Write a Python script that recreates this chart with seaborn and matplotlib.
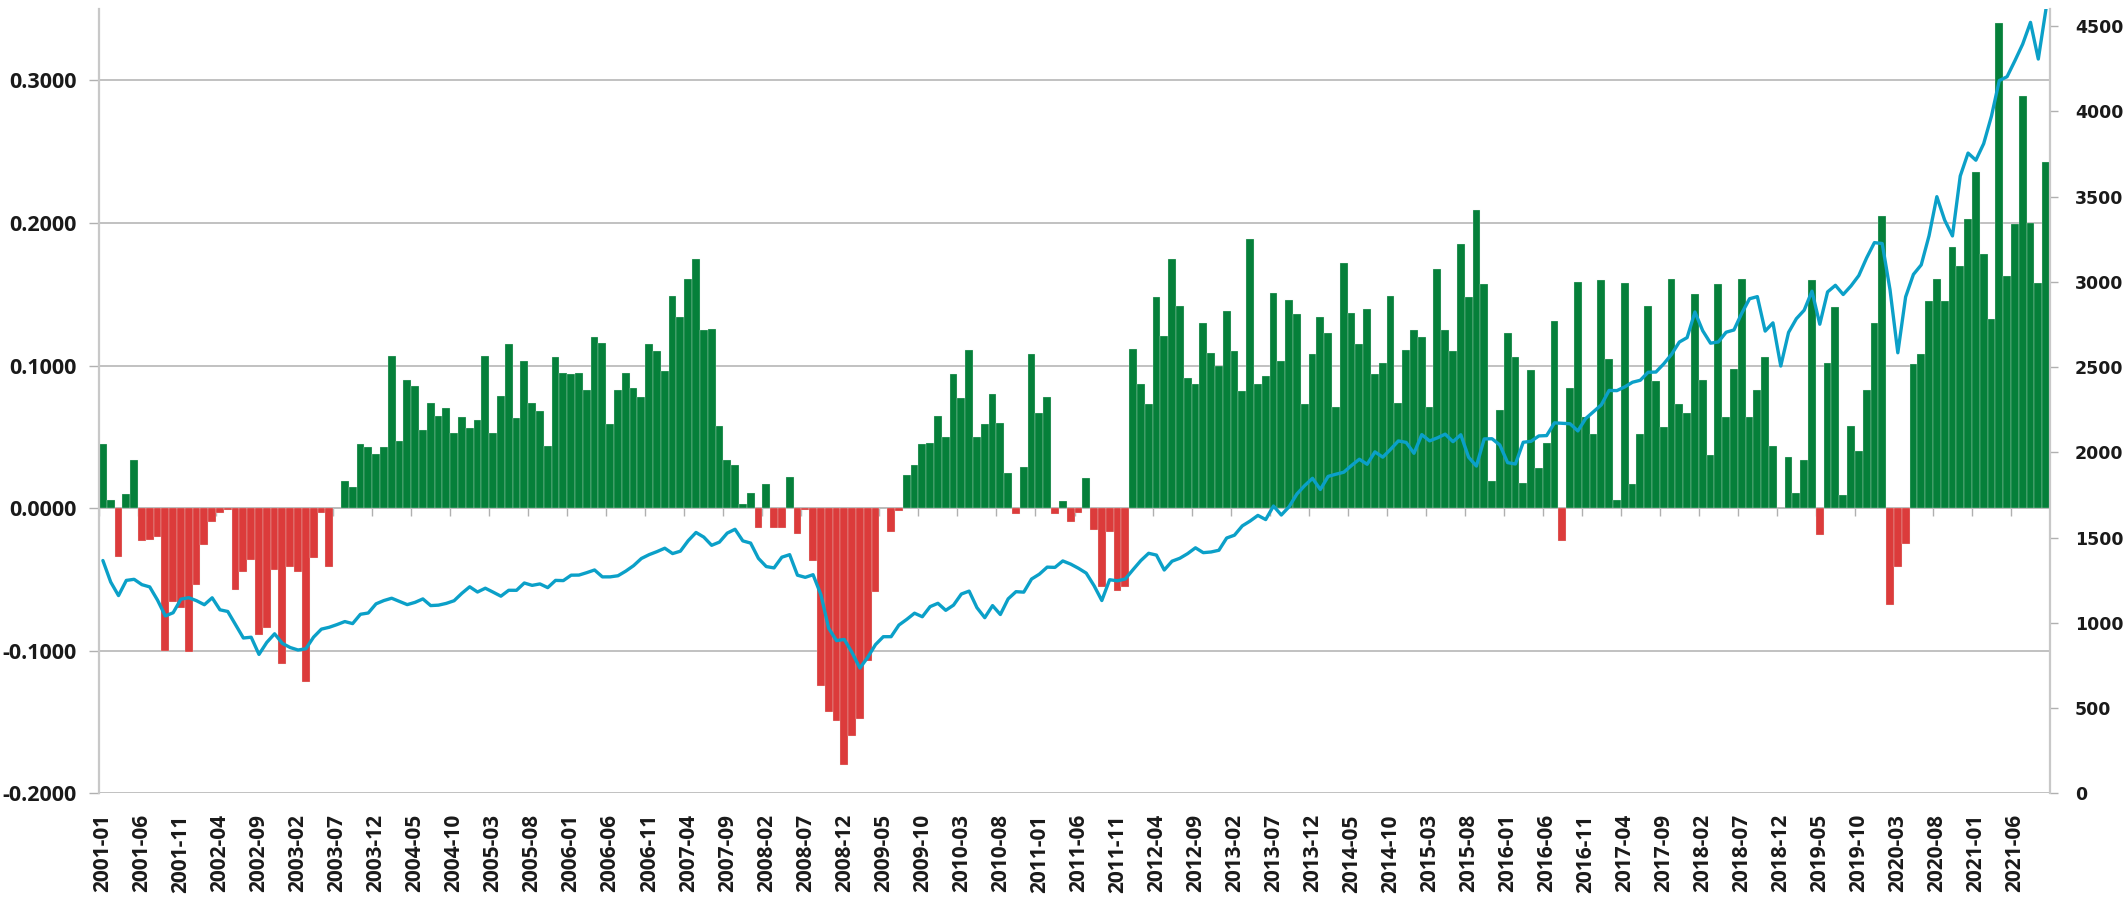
import numpy as np
import pandas as pd
import seaborn as sns
import matplotlib.pyplot as plt

# ---------------- data ----------------
months = list(pd.period_range('2001-01', periods=250, freq='M').strftime('%Y-%m'))

ratio = [
    0.045, 0.006, -0.034, 0.010, 0.034, -0.023, -0.022, -0.020, -0.100, -0.066,
    -0.070, -0.101, -0.054, -0.026, -0.010, -0.003, -0.001, -0.057, -0.045, -0.036,
    -0.089, -0.084, -0.043, -0.109, -0.041, -0.045, -0.122, -0.035, -0.003, -0.041,
    0.000, 0.019, 0.015, 0.045, 0.043, 0.038, 0.043, 0.107, 0.047, 0.090,
    0.086, 0.055, 0.074, 0.065, 0.070, 0.053, 0.064, 0.056, 0.062, 0.107,
    0.053, 0.079, 0.115, 0.063, 0.103, 0.074, 0.068, 0.044, 0.106, 0.095,
    0.094, 0.095, 0.083, 0.120, 0.116, 0.059, 0.083, 0.095, 0.084, 0.078,
    0.115, 0.110, 0.096, 0.149, 0.134, 0.161, 0.175, 0.125, 0.126, 0.058,
    0.034, 0.030, 0.003, 0.011, -0.014, 0.017, -0.014, -0.014, 0.022, -0.018,
    -0.001, -0.037, -0.125, -0.143, -0.149, -0.180, -0.160, -0.148, -0.107, -0.059,
    0.000, -0.017, -0.002, 0.023, 0.030, 0.045, 0.046, 0.065, 0.050, 0.094,
    0.077, 0.111, 0.050, 0.059, 0.080, 0.060, 0.025, -0.004, 0.029, 0.108,
    0.067, 0.078, -0.004, 0.005, -0.010, -0.003, 0.021, -0.015, -0.055, -0.017,
    -0.058, -0.055, 0.112, 0.087, 0.073, 0.148, 0.121, 0.175, 0.142, 0.091,
    0.087, 0.130, 0.109, 0.100, 0.138, 0.110, 0.082, 0.189, 0.087, 0.093,
    0.151, 0.103, 0.146, 0.136, 0.073, 0.108, 0.134, 0.123, 0.071, 0.172,
    0.137, 0.115, 0.140, 0.094, 0.102, 0.149, 0.074, 0.111, 0.125, 0.120,
    0.071, 0.168, 0.125, 0.110, 0.185, 0.148, 0.209, 0.157, 0.019, 0.069,
    0.123, 0.106, 0.018, 0.097, 0.028, 0.046, 0.131, -0.023, 0.084, 0.159,
    0.064, 0.052, 0.160, 0.105, 0.006, 0.158, 0.017, 0.052, 0.142, 0.089,
    0.057, 0.161, 0.073, 0.067, 0.150, 0.090, 0.037, 0.157, 0.064, 0.098,
    0.161, 0.064, 0.083, 0.106, 0.044, 0.000, 0.036, 0.011, 0.034, 0.160,
    -0.019, 0.102, 0.141, 0.009, 0.058, 0.040, 0.083, 0.130, 0.205, -0.068,
    -0.041, -0.025, 0.101, 0.108, 0.145, 0.161, 0.145, 0.183, 0.170, 0.203,
    0.236, 0.178, 0.133, 0.340, 0.163, 0.199, 0.289, 0.200, 0.158, 0.243,
]

index_level = [
    1366.01, 1239.94, 1160.33, 1249.46, 1255.82, 1224.42, 1211.23, 1133.58, 1040.94, 1059.78, 1139.45, 1148.08,
    1130.20, 1106.73, 1147.39, 1076.92, 1067.14, 989.82, 911.62, 916.07, 815.28, 885.76, 936.31, 879.82,
    855.70, 841.15, 848.18, 916.92, 963.59, 974.50, 990.31, 1008.01, 995.97, 1050.71, 1058.20, 1111.92,
    1131.13, 1144.94, 1126.21, 1107.30, 1120.68, 1140.84, 1101.72, 1104.24, 1114.58, 1130.20, 1173.82, 1211.92,
    1181.27, 1203.60, 1180.59, 1156.85, 1191.50, 1191.33, 1234.18, 1220.33, 1228.81, 1207.01, 1249.48, 1248.29,
    1280.08, 1280.66, 1294.83, 1310.61, 1270.09, 1270.20, 1276.66, 1303.82, 1335.85, 1377.94, 1400.63, 1418.30,
    1438.24, 1406.82, 1420.86, 1482.37, 1530.62, 1503.35, 1455.27, 1473.99, 1526.75, 1549.38, 1481.14, 1468.36,
    1378.55, 1330.63, 1322.70, 1385.59, 1400.38, 1280.00, 1267.38, 1282.83, 1166.36, 968.75, 896.24, 903.25,
    825.88, 735.09, 797.87, 872.81, 919.14, 919.32, 987.48, 1020.62, 1057.08, 1036.19, 1095.63, 1115.10,
    1073.87, 1104.49, 1169.43, 1186.69, 1089.41, 1030.71, 1101.60, 1049.33, 1141.20, 1183.26, 1180.55, 1257.64,
    1286.12, 1327.22, 1325.83, 1363.61, 1345.20, 1320.64, 1292.28, 1218.89, 1131.42, 1253.30, 1246.96, 1257.60,
    1312.41, 1365.68, 1408.47, 1397.91, 1310.33, 1362.16, 1379.32, 1406.58, 1440.67, 1412.16, 1416.18, 1426.19,
    1498.11, 1514.68, 1569.19, 1597.57, 1630.74, 1606.28, 1685.73, 1632.97, 1681.55, 1756.54, 1805.81, 1848.36,
    1782.59, 1859.45, 1872.34, 1883.95, 1923.57, 1960.23, 1930.67, 2003.37, 1972.29, 2018.05, 2067.56, 2058.90,
    1994.99, 2104.50, 2067.89, 2085.51, 2107.39, 2063.11, 2103.84, 1972.18, 1920.03, 2079.36, 2080.41, 2043.94,
    1940.24, 1932.23, 2059.74, 2065.30, 2096.95, 2098.86, 2173.60, 2170.95, 2168.27, 2126.15, 2198.81, 2238.83,
    2278.87, 2363.64, 2362.72, 2384.20, 2411.80, 2423.41, 2470.30, 2471.65, 2519.36, 2575.26, 2647.58, 2673.61,
    2823.81, 2713.83, 2640.87, 2648.05, 2705.27, 2718.37, 2816.29, 2901.52, 2913.98, 2711.74, 2760.17, 2506.85,
    2704.10, 2784.49, 2834.40, 2945.83, 2752.06, 2941.76, 2980.38, 2926.46, 2976.74, 3037.56, 3140.98, 3230.78,
    3225.52, 2954.22, 2584.59, 2912.43, 3044.31, 3100.29, 3271.12, 3500.31, 3363.00, 3269.96, 3621.63, 3756.07,
    3714.24, 3811.15, 3972.89, 4181.17, 4204.11, 4297.50, 4395.26, 4522.68, 4307.54, 4605.38,
]

left_ticks = [-0.2, -0.1, 0.0, 0.1, 0.2, 0.3]
right_ticks = [0, 500, 1000, 1500, 2000, 2500, 3000, 3500, 4000, 4500]

# ---------------- style ----------------
GREEN = '#05803A'
RED = '#DC3B3B'
BLUE = '#0BA0C8'
GRID = '#b0b0b0'
SPINE = '#c8c8c8'
TXT = '#1a1a1a'

sns.set_theme(style='white')
plt.rcParams['font.family'] = ['Open Sans', 'DejaVu Sans']

n = len(ratio)
fig = plt.figure(figsize=(21.24, 9.11), dpi=100)
ax = fig.add_axes([99 / 2124, 1 - 793.4 / 911, (2050 - 99) / 2124, (793.4 - 9.2) / 911])

df = pd.DataFrame({
    'month': months,
    'value': ratio,
    'sign': np.where(np.array(ratio) >= 0, 'pos', 'neg'),
})
sns.barplot(data=df, x='month', y='value', hue='sign', order=months,
            palette={'pos': GREEN, 'neg': RED}, dodge=False, width=1.0,
            errorbar=None, legend=False, saturation=1, linewidth=0.2,
            edgecolor='#e8f2ec', ax=ax)

ax.set_xlim(-0.5, n - 0.5)
ax.set_ylim(-0.2, 0.35)
ax.set_axisbelow(True)
ax.yaxis.grid(True, color=GRID, lw=1.1)
ax.xaxis.grid(False)
ax.set_xlabel('')
ax.set_ylabel('')

ax.set_yticks(left_ticks)
ax.set_yticklabels([f'{v:.4f}' for v in left_ticks], fontsize=15.5,
                   fontweight='bold', color=TXT)
ax.tick_params(axis='y', length=7, width=1, color=GRID, pad=9, left=True)

ax.set_xticks(range(0, n, 5))
ax.set_xticklabels(months[::5], rotation=90, fontsize=15, fontweight='bold',
                   color=TXT)
ax.tick_params(axis='x', length=0, pad=15)

for s in ['top', 'bottom']:
    ax.spines[s].set_visible(False)
ax.spines['left'].set_color(SPINE)
ax.spines['left'].set_linewidth(1.6)
ax.spines['right'].set_visible(False)

# zero line axis with category boundary ticks
zero_pos = 0.2 / 0.55
sec = ax.secondary_xaxis(zero_pos)
sec.set_xticks(np.arange(0, n, 5) - 0.5)
sec.set_xticklabels([])
sec.tick_params(axis='x', length=6, width=1, color=GRID, direction='out')
for s in sec.spines.values():
    s.set_color(GRID)
    s.set_linewidth(1.1)

# right axis line
ax2 = ax.twinx()
sns.lineplot(x=np.arange(n), y=index_level, ax=ax2, color=BLUE, lw=2.4)
ax2.set_xlim(-0.5, n - 0.5)
ax2.set_ylim(0, 4600)
ax2.grid(False)
ax2.set_ylabel('')
ax2.set_yticks(right_ticks)
ax2.set_yticklabels([str(v) for v in right_ticks], fontsize=12.5,
                    fontweight='bold', color=TXT, family='DejaVu Sans')
ax2.tick_params(axis='y', length=6, width=1, color=GRID, pad=12, right=True)
for s in ['top', 'bottom', 'left']:
    ax2.spines[s].set_visible(False)
ax2.spines['right'].set_color(SPINE)
ax2.spines['right'].set_linewidth(1.6)

fig.savefig('out.png', dpi=100)
